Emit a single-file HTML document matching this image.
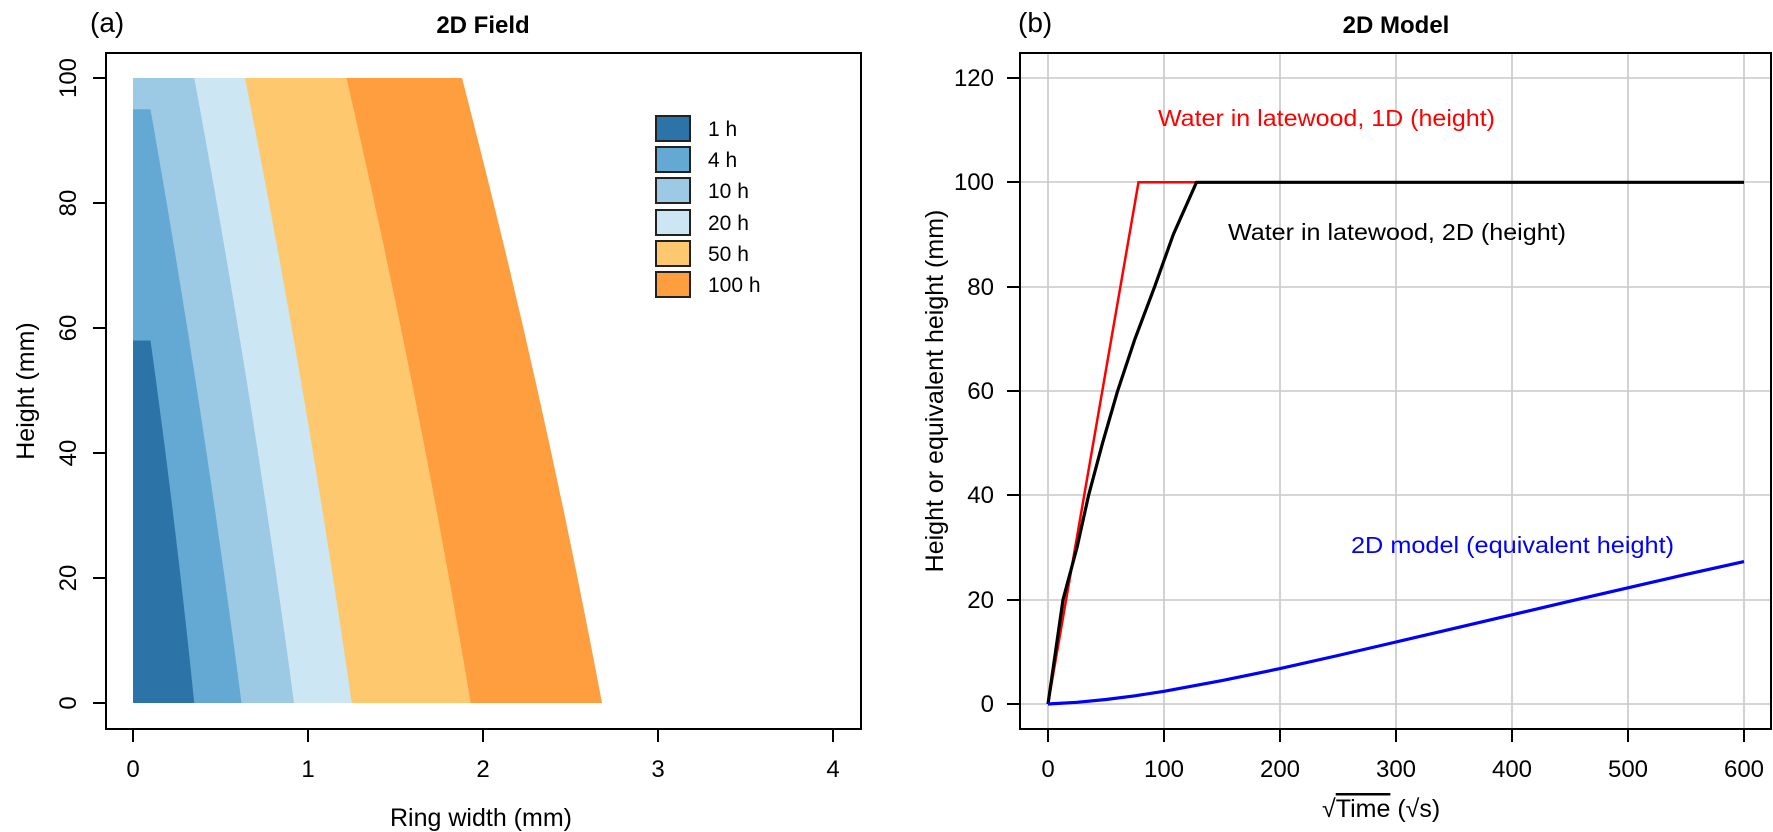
<!DOCTYPE html>
<html><head><meta charset="utf-8"><style>html,body{margin:0;padding:0;background:#fff}svg{display:block}text{font-family:"Liberation Sans",sans-serif;fill:#000}</style></head>
<body>
<svg width="1773" height="832" viewBox="0 0 1773 832" xmlns="http://www.w3.org/2000/svg">
<!-- Panel (a) -->
<g stroke="none">
<path fill="#fe9e3e" d="M133,703 L602,703 Q543.2,390.5 462,78 L133,78 Z"/>
<path fill="#fdc86e" d="M133,703 L470.75,703 Q418.4,390.5 346.5,78 L133,78 Z"/>
<path fill="#cce7f3" d="M133,703 L351.75,703 Q306.8,390.5 245,78 L133,78 Z"/>
<path fill="#9ccae4" d="M133,703 L294,703 Q252.3,390.5 194.25,78 L133,78 Z"/>
<path fill="#64a9d4" d="M133,703 L241.5,703 Q203,406.1 150.5,109.3 L133,109.3 Z"/>
<path fill="#2c74a7" d="M133,703 L194.25,703 Q175.8,521.75 150.5,340.5 L133,340.5 Z"/>
</g>
<rect x="106" y="53" width="755" height="676" fill="none" stroke="#000" stroke-width="2"/>
<g stroke="#000" stroke-width="2">
<line x1="133" y1="729" x2="133" y2="742"/><line x1="308" y1="729" x2="308" y2="742"/><line x1="483" y1="729" x2="483" y2="742"/><line x1="658" y1="729" x2="658" y2="742"/><line x1="833" y1="729" x2="833" y2="742"/>
<line x1="106" y1="703" x2="93" y2="703"/><line x1="106" y1="578" x2="93" y2="578"/><line x1="106" y1="453" x2="93" y2="453"/><line x1="106" y1="328" x2="93" y2="328"/><line x1="106" y1="203" x2="93" y2="203"/><line x1="106" y1="78" x2="93" y2="78"/>
</g>
<g font-size="24" text-anchor="middle">
<text x="133" y="777">0</text><text x="308" y="777">1</text><text x="483" y="777">2</text><text x="658" y="777">3</text><text x="833" y="777">4</text>
<text transform="translate(76,703) rotate(-90)">0</text>
<text transform="translate(76,578) rotate(-90)">20</text>
<text transform="translate(76,453) rotate(-90)">40</text>
<text transform="translate(76,328) rotate(-90)">60</text>
<text transform="translate(76,203) rotate(-90)">80</text>
<text transform="translate(76,78) rotate(-90)">100</text>
<text x="481" y="826" font-size="25">Ring width (mm)</text>
<text transform="translate(34,391) rotate(-90)" font-size="25">Height (mm)</text>
<text x="483" y="33" font-weight="bold" font-size="24">2D Field</text>
</g>
<text x="90" y="32" font-size="28">(a)</text>
<!-- legend -->
<g stroke="#222" stroke-width="2">
<rect x="656" y="116" width="34" height="25" fill="#2c74a7"/>
<rect x="656" y="147" width="34" height="25" fill="#64a9d4"/>
<rect x="656" y="178" width="34" height="25" fill="#9ccae4"/>
<rect x="656" y="210" width="34" height="25" fill="#cce7f3"/>
<rect x="656" y="241" width="34" height="25" fill="#fdc86e"/>
<rect x="656" y="272" width="34" height="25" fill="#fe9e3e"/>
</g>
<g font-size="21">
<text x="708" y="136">1 h</text><text x="708" y="167">4 h</text><text x="708" y="198">10 h</text><text x="708" y="230">20 h</text><text x="708" y="261">50 h</text><text x="708" y="292">100 h</text>
</g>

<!-- Panel (b) -->
<g stroke="#c8c8c8" stroke-width="1.6">
<line x1="1048" y1="53" x2="1048" y2="729"/><line x1="1164" y1="53" x2="1164" y2="729"/><line x1="1280" y1="53" x2="1280" y2="729"/><line x1="1396" y1="53" x2="1396" y2="729"/><line x1="1512" y1="53" x2="1512" y2="729"/><line x1="1628" y1="53" x2="1628" y2="729"/><line x1="1744" y1="53" x2="1744" y2="729"/>
<line x1="1020" y1="704" x2="1771" y2="704"/><line x1="1020" y1="600" x2="1771" y2="600"/><line x1="1020" y1="495" x2="1771" y2="495"/><line x1="1020" y1="391" x2="1771" y2="391"/><line x1="1020" y1="287" x2="1771" y2="287"/><line x1="1020" y1="182" x2="1771" y2="182"/><line x1="1020" y1="78" x2="1771" y2="78"/>
</g>
<polyline fill="none" stroke="#ff0000" stroke-width="2.5" points="1048,704 1138.5,182.3 1198.8,182.3"/>
<polyline fill="none" stroke="#000" stroke-width="3.2" stroke-linejoin="round" points="1048,704 1063,599.7 1077,547.5 1088.6,495.3 1102.5,443.2 1117.6,391 1135,338.8 1154.7,286.6 1173.3,234.5 1196.5,182.3 1744,182.3"/>
<polyline fill="none" stroke="#0000ff" stroke-width="3.2" stroke-linejoin="round" points="1048,704 1077,702.3 1106,699.5 1135,695.8 1164,691.3 1222,680.6 1280,668.6 1338,655.5 1396,642 1454,628.4 1512,614.8 1570,601.2 1628,587.8 1686,574.4 1744,561.6"/>
<rect x="1020" y="53" width="751" height="676" fill="none" stroke="#000" stroke-width="2"/>
<g stroke="#000" stroke-width="2">
<line x1="1048" y1="729" x2="1048" y2="742"/><line x1="1164" y1="729" x2="1164" y2="742"/><line x1="1280" y1="729" x2="1280" y2="742"/><line x1="1396" y1="729" x2="1396" y2="742"/><line x1="1512" y1="729" x2="1512" y2="742"/><line x1="1628" y1="729" x2="1628" y2="742"/><line x1="1744" y1="729" x2="1744" y2="742"/>
<line x1="1020" y1="704" x2="1007" y2="704"/><line x1="1020" y1="600" x2="1007" y2="600"/><line x1="1020" y1="495" x2="1007" y2="495"/><line x1="1020" y1="391" x2="1007" y2="391"/><line x1="1020" y1="287" x2="1007" y2="287"/><line x1="1020" y1="182" x2="1007" y2="182"/><line x1="1020" y1="78" x2="1007" y2="78"/>
</g>
<g font-size="24" text-anchor="middle">
<text x="1048" y="777">0</text><text x="1164" y="777">100</text><text x="1280" y="777">200</text><text x="1396" y="777">300</text><text x="1512" y="777">400</text><text x="1628" y="777">500</text><text x="1744" y="777">600</text>
<text x="1396" y="33" font-weight="bold">2D Model</text>
<text transform="translate(943,391) rotate(-90)" font-size="25">Height or equivalent height (mm)</text>
</g>
<g font-size="24" text-anchor="end">
<text x="994" y="712">0</text><text x="994" y="608">20</text><text x="994" y="503">40</text><text x="994" y="399">60</text><text x="994" y="295">80</text><text x="994" y="190">100</text><text x="994" y="86">120</text>
</g>
<text x="1322" y="817" font-size="25">√<tspan text-decoration="overline">Time</tspan> (√s)</text>
<text x="1018" y="32" font-size="28">(b)</text>
<text x="1158" y="126" font-size="23" style="fill:#ff0000" textLength="337" lengthAdjust="spacingAndGlyphs">Water in latewood, 1D (height)</text>
<text x="1228" y="240" font-size="23" textLength="338" lengthAdjust="spacingAndGlyphs">Water in latewood, 2D (height)</text>
<text x="1351" y="553" font-size="23" style="fill:#0000ff" textLength="323" lengthAdjust="spacingAndGlyphs">2D model (equivalent height)</text>
</svg>
</body></html>
